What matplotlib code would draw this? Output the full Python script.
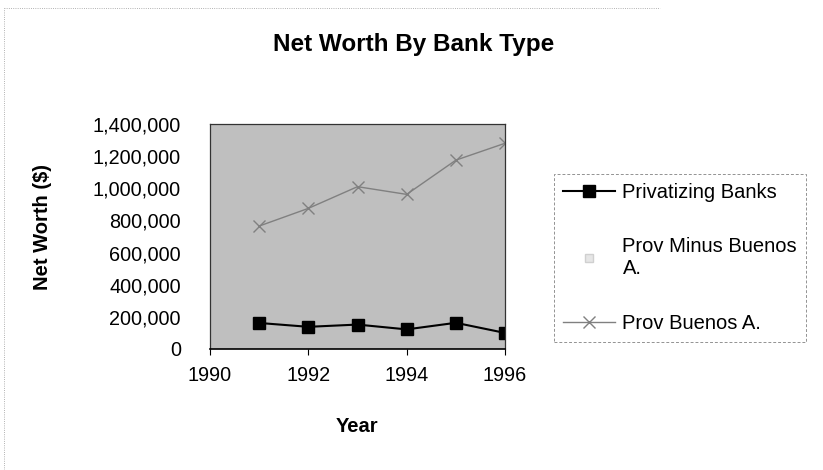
import matplotlib.pyplot as plt
from matplotlib.lines import Line2D

plt.rcParams['font.family'] = ['Liberation Sans', 'DejaVu Sans']

# Data
years = [1991, 1992, 1993, 1994, 1995, 1996]
privatizing = [162000, 138000, 152000, 122000, 163000, 100000]
prov_minus_ba = []  # series is not visible in the chart, only in the legend
prov_ba = [765000, 875000, 1010000, 962000, 1175000, 1280000]

x_ticks = [1990, 1992, 1994, 1996]
y_ticks = [0, 200000, 400000, 600000, 800000, 1000000, 1200000, 1400000]

fig = plt.figure(figsize=(8.23, 4.70), dpi=100)
ax = fig.add_axes([210 / 823, 1 - 349 / 470, 295 / 823, 225 / 470])
ax.set_facecolor('#bfbfbf')

ax.plot(years, privatizing, color='black', linewidth=1.5, marker='s',
        markersize=8, label='Privatizing Banks')
ax.plot(prov_minus_ba, prov_minus_ba, linestyle='none', marker='s', markersize=6,
        markerfacecolor='#e6e6e6', markeredgecolor='#d0d0d0',
        label='Prov Minus Buenos\nA.')
ax.plot(years, prov_ba, color='#808080', linewidth=1.0, marker='x',
        markersize=9, markeredgewidth=1.0, label='Prov Buenos A.')

ax.set_xlim(1990, 1996)
ax.set_ylim(0, 1400000)
ax.set_xticks(x_ticks)
ax.set_yticks(y_ticks)
ax.set_yticklabels(['{:,}'.format(v) for v in y_ticks])
ax.tick_params(axis='x', direction='out', length=4, pad=8, labelsize=14.3)
ax.tick_params(axis='y', length=0, pad=21, labelsize=14.3)
for s in ax.spines.values():
    s.set_color('#333333')
    s.set_linewidth(0.9)
ax.spines['bottom'].set_color('black')
ax.spines['bottom'].set_linewidth(1.2)

ax.set_xlabel('Year', fontsize=14.5, fontweight='bold')
ax.set_ylabel('Net Worth ($)', fontsize=14.5, fontweight='bold')
ax.xaxis.set_label_coords(0.5, -0.30)
ax.yaxis.set_label_coords(-0.535, 0.54)

fig.text(414 / 823, 1 - 45 / 470, 'Net Worth By Bank Type', fontsize=17.5,
         fontweight='bold', ha='center', va='center')

leg = fig.legend(loc='upper left', bbox_to_anchor=(554 / 823, 1 - 174 / 470),
                 fontsize=14.5, frameon=True, fancybox=False, handlelength=2.6,
                 handletextpad=0.35, labelspacing=1.75, borderpad=0.45,
                 borderaxespad=0)
leg.get_frame().set_edgecolor('#777777')
leg.get_frame().set_linewidth(0.7)
leg.get_frame().set_linestyle((0, (3, 2)))

# faint outer chart border from the scan
fig.add_artist(Line2D([4 / 823, 4 / 823], [0, 1 - 8 / 470], color='#999999',
                      linewidth=0.6, linestyle=':'))
fig.add_artist(Line2D([4 / 823, 660 / 823], [1 - 8 / 470, 1 - 8 / 470],
                      color='#999999', linewidth=0.6, linestyle=':'))

fig.savefig('out.png', dpi=100)
